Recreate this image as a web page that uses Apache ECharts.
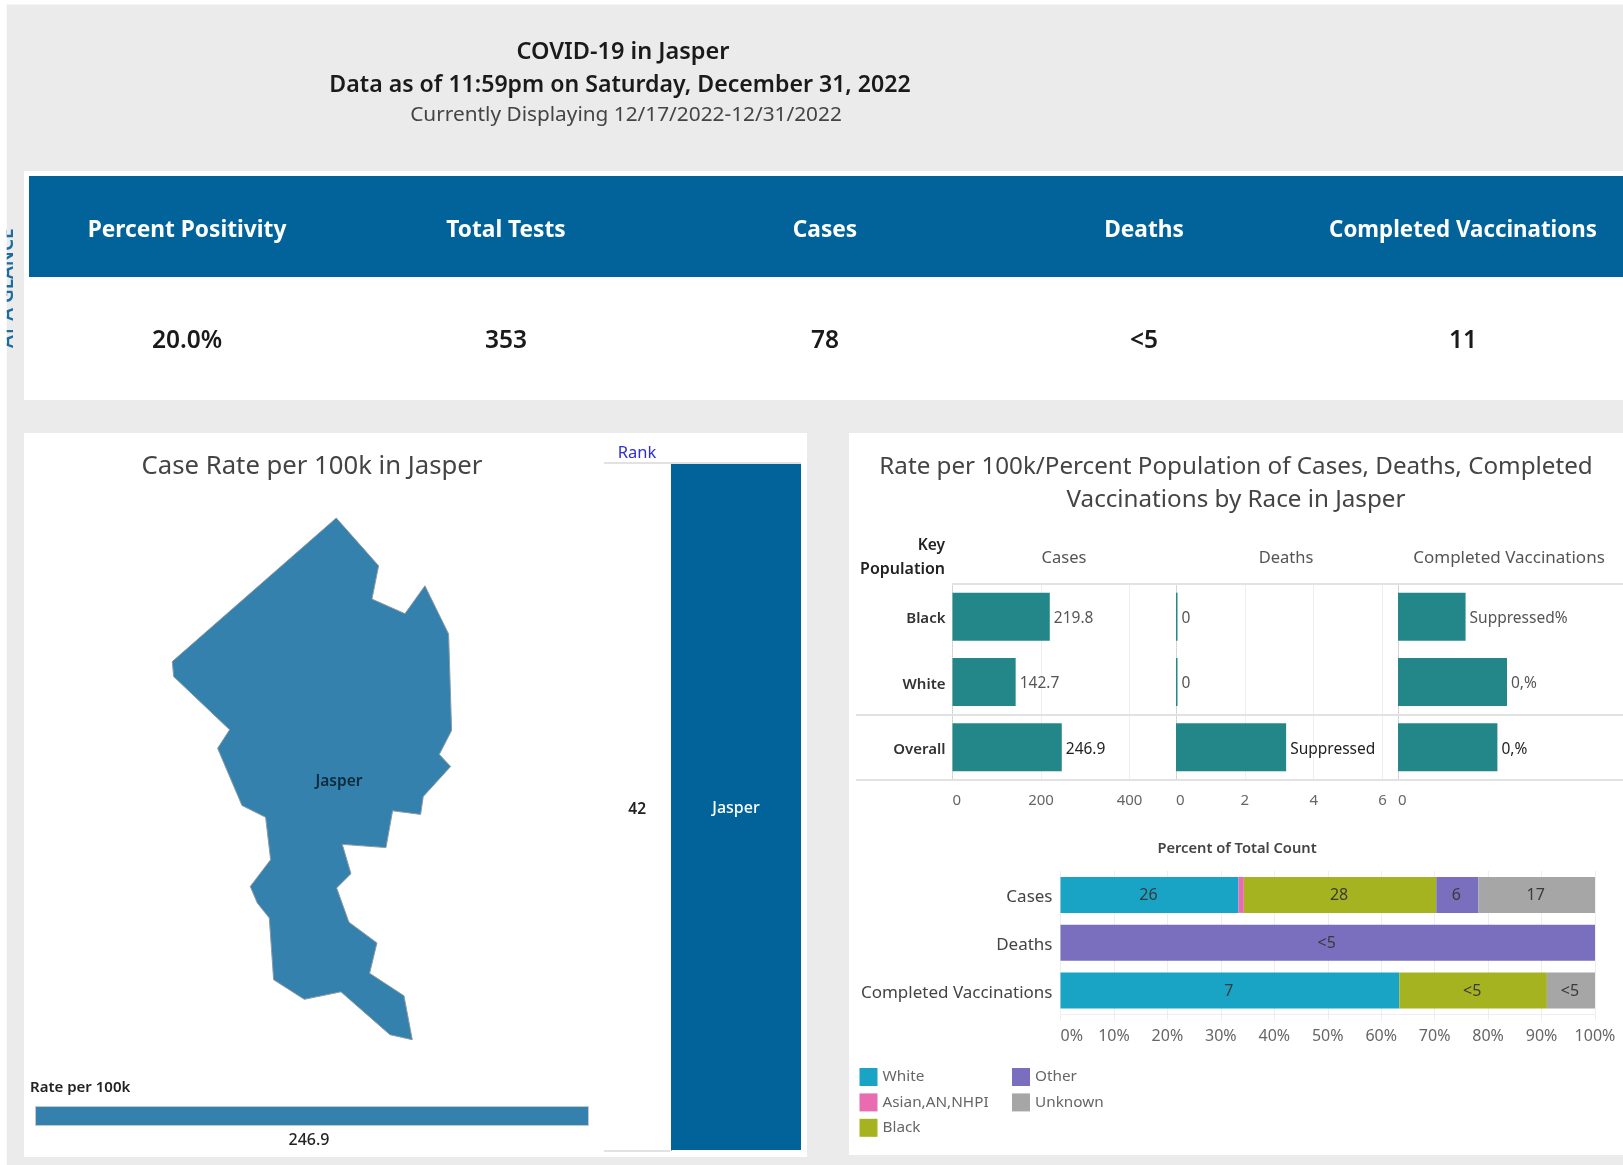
<!DOCTYPE html>
<html>
<head>
<meta charset="utf-8">
<title>COVID-19 in Jasper</title>
<script src="https://cdn.jsdelivr.net/npm/echarts@6/dist/echarts.min.js"></script>
<style>
	html, body { margin: 0; padding: 0; background: #ebebeb; }
	#main { width: 1623px; height: 1165px; }
</style>
</head>
<body>
<div id="main"></div>
<script>
	var kpiHeaders = ['Percent Positivity', 'Total Tests', 'Cases', 'Deaths', 'Completed Vaccinations'];
	var kpiValues = ['20.0%', '353', '78', '<5', '11'];

	// county outline
	var jasperOutline = [[589,50],[716,184],[696,277],[795,318],[855,240],[926,375],[935,645],[898,712],[932,746],[850,830],[842,880],[758,870],[738,973],[607,964],[633,1046],[590,1086],[627,1182],[711,1240],[689,1325],[792,1388],[817,1511],[750,1497],[603,1377],[493,1398],[401,1343],[388,1170],[352,1128],[331,1082],[392,1007],[377,888],[306,855],[233,695],[269,643],[101,494],[97,452],[589,50]];
	var rateName = 'Jasper';
	var rateValue = [246.9];
	var rankLabels = ['42'];
	var rankValues = [1];

	var keyPopulation = ['Black', 'White', 'Overall'];
	var caseRates = [219.8, 142.7, 246.9];
	var deathRates = [0, 0, 3.2];
	var deathLabels = ['0', '0', 'Suppressed'];
	var vaccPercent = [0.31, 0.5, 0.456];
	var vaccLabels = ['Suppressed%', '0,%', '0,%'];

	var totalCats = ['Cases', 'Deaths', 'Completed Vaccinations'];
	var races = ['White', 'Asian,AN,NHPI', 'Black', 'Other', 'Unknown'];
	var racePercent = [
		[33.3, null, 63.4],
		[1, null, null],
		[36, null, 27.6],
		[7.9, 100, null],
		[21.8, null, 9]
	];
	var raceLabels = [
		['26', '', '7'],
		['', '', ''],
		['28', '', '<5'],
		['6', '<5', ''],
		['17', '', '<5']
	];
	var raceColors = ['#19a3c5', '#e96cb1', '#a5b321', '#7a6fbe', '#a6a6a6'];

	var FONT = '"Noto Sans", sans-serif';
	var TEAL = '#23878a';

	function text(x, y, str, size, color, weight, align) {
		return {
			type: 'text', x: x, y: y, z: 5,
			style: {
				text: str, font: (weight || 'normal') + ' ' + size + 'px ' + FONT,
				fill: color, align: align || 'center', verticalAlign: 'middle'
			}
		};
	}
	function box(x, y, w, h, color, z) {
		return { type: 'rect', z: z || 0, silent: true, shape: { x: x, y: y, width: w, height: h }, style: { fill: color } };
	}
	function rule(x1, x2, y, color) {
		return { type: 'line', z: 1, silent: true, shape: { x1: x1, y1: y, x2: x2, y2: y }, style: { stroke: color || '#e2e2e2', lineWidth: 2 } };
	}
	// axis label nudged down a little, plain padding is ignored on these
	function nudged(size, color, weight, margin) {
		return {
			margin: margin,
			formatter: '{a|{value}}',
			rich: { a: { fontFamily: FONT, fontSize: size, color: color, fontWeight: weight, padding: [5, 0, 0, 0] } }
		};
	}

	var chart = echarts.init(document.getElementById('main'));

	echarts.registerMap('jasper', {
		type: 'FeatureCollection',
		features: [{
			type: 'Feature',
			properties: { name: rateName, cp: [597, -788] },
			geometry: { type: 'Polygon', coordinates: [jasperOutline.map(function (p) { return [p[0], -p[1]]; })] }
		}]
	});

	var elements = [
		box(0, 0, 1623, 4.5, '#ffffff'),
		box(0, 0, 6.7, 1165, '#ffffff', 7),
		box(24, 171, 1599, 229, '#ffffff'),
		box(29, 176, 1594, 101, '#02639b', 1),
		box(24, 433, 783, 724, '#ffffff'),
		box(849, 433, 774, 722, '#ffffff'),
		text(623, 52.5, 'COVID-19 in Jasper', 23.5, '#1a1a1a', '600'),
		text(620, 85.5, 'Data as of 11:59pm on Saturday, December 31, 2022', 23.1, '#1a1a1a', '600'),
		text(626, 115.5, 'Currently Displaying 12/17/2022-12/31/2022', 20.8, '#444444'),
		{
			type: 'text', x: 7.5, y: 348, rotation: Math.PI / 2, z: 5,
			style: { text: 'AT A GLANCE', font: '600 19px ' + FONT, fill: '#1d6c9e', verticalAlign: 'middle' }
		},
		text(312, 466.5, 'Case Rate per 100k in Jasper', 25.7, '#444444'),
		text(637, 453, 'Rank', 16.5, '#2e2edb'),
		rule(604, 801, 463),
		rule(604, 670, 1151),
		text(30, 1088, 'Rate per 100k', 15, '#222222', '600', 'left'),
		text(1236, 467.5, 'Rate per 100k/Percent Population of Cases, Deaths, Completed', 24.2, '#444444'),
		text(1236, 500.5, 'Vaccinations by Race in Jasper', 24.2, '#444444'),
		text(945, 546, 'Key', 15.5, '#222222', '600', 'right'),
		text(945, 569, 'Population', 16, '#222222', '600', 'right'),
		text(1064, 558, 'Cases', 16.5, '#555555'),
		text(1286, 558, 'Deaths', 16.5, '#555555'),
		text(1509, 558, 'Completed Vaccinations', 17, '#555555'),
		rule(952, 1623, 584),
		rule(856, 1623, 715),
		rule(856, 1623, 780),
		text(1237, 849, 'Percent of Total Count', 14.7, '#444444', '600')
	];
	kpiHeaders.forEach(function (h, i) {
		var cx = 187 + i * 319;
		// the long last header is set a touch tighter
		elements.push(text(cx, 231, h, i === 4 ? 22.3 : 22.7, '#ffffff', '700'));
		elements.push(text(cx, 341.5, kpiValues[i], 24.5, '#1a1a1a', '600'));
	});

	var tick = { fontFamily: FONT, fontSize: 15, color: '#666666' };
	var zeroLine = { show: true, lineStyle: { color: '#cccccc', type: 'dotted' } };
	var gridLine = { show: true, showMaxLine: false, showMinLine: false, lineStyle: { color: '#eeeeee' } };

	function valueAxis(idx, max, interval) {
		return {
			type: 'value', gridIndex: idx, min: 0, max: max, interval: interval,
			axisLine: { show: false }, axisTick: { show: false },
			splitLine: gridLine,
			axisLabel: Object.assign({}, tick, { showMaxLabel: false, alignMinLabel: 'left', margin: 13 })
		};
	}
	function rowAxis(idx, labels) {
		return {
			type: 'category', gridIndex: idx, inverse: true, data: keyPopulation,
			axisLine: zeroLine, axisTick: { show: false },
			axisLabel: labels ? nudged(15, '#333333', 600, 7) : { show: false }
		};
	}
	function rowBars(idx, values, labels) {
		return {
			type: 'bar', xAxisIndex: idx, yAxisIndex: idx, barWidth: 48, barMinHeight: 1.5, silent: true,
			// the Overall row reads darker than the race rows
			data: values.map(function (v, i) {
				return i === 2 ? { value: v, label: { color: '#222222' } } : v;
			}),
			itemStyle: { color: TEAL },
			label: {
				show: true, position: 'right', distance: 4, offset: [0, 2], fontFamily: FONT, fontSize: 15.5,
				color: '#555555',
				formatter: function (p) { return labels[p.dataIndex]; }
			}
		};
	}

	var series = [
		{
			type: 'map', map: 'jasper', aspectScale: 0.933, roam: false, silent: true, showLegendSymbol: false,
			left: 172.3, top: 518, width: 279.3, height: 521.7,
			data: [{ name: rateName, value: rateValue[0] }],
			itemStyle: { areaColor: '#3381ac', borderColor: '#8b9aa5', borderWidth: 1 },
			label: { show: true, formatter: '{b}', fontFamily: FONT, fontSize: 15.5, fontWeight: 600, color: '#0f2a3c' },
			emphasis: { disabled: true }
		},
		{
			type: 'bar', xAxisIndex: 0, yAxisIndex: 0, data: rankValues, barWidth: '100%', silent: true,
			itemStyle: { color: '#02639b' },
			label: { show: true, position: 'inside', offset: [0, 1], formatter: rateName, fontFamily: FONT, fontSize: 16, fontWeight: 500, color: '#ffffff' }
		},
		{
			type: 'bar', xAxisIndex: 1, yAxisIndex: 1, data: rateValue, barWidth: '100%', silent: true,
			itemStyle: { color: '#3381ac', borderColor: '#c4c9cc', borderWidth: 1 },
			label: { show: true, position: 'bottom', distance: 4, offset: [-3, 2], fontFamily: FONT, fontSize: 16, fontWeight: 500, color: '#222222' }
		},
		rowBars(2, caseRates, caseRates.map(String)),
		rowBars(3, deathRates, deathLabels),
		rowBars(4, vaccPercent, vaccLabels)
	];
	races.forEach(function (r, i) {
		series.push({
			name: r, type: 'bar', stack: 'total', xAxisIndex: 5, yAxisIndex: 5, barWidth: 36, silent: true,
			data: racePercent[i], itemStyle: { color: raceColors[i] },
			label: {
				show: true, position: 'inside', offset: [-1, 1], fontFamily: FONT, fontSize: 16, color: '#3a3a3a',
				formatter: function (p) { return raceLabels[i][p.dataIndex]; }
			}
		});
	});

	function legendAt(left, names) {
		return {
			left: left, top: 1068, padding: 0, orient: 'vertical', data: names, icon: 'rect', selectedMode: false,
			itemWidth: 18, itemHeight: 18, itemGap: 7.4, itemStyle: { borderWidth: 0 },
			textStyle: { fontFamily: FONT, fontSize: 15.3, color: '#666666' }
		};
	}

	chart.setOption({
		backgroundColor: '#ebebeb',
		animation: false,
		graphic: { elements: elements },
		legend: [legendAt(859.5, races.slice(0, 3)), legendAt(1012, races.slice(3))],
		grid: [
			{ left: 671, top: 464, width: 130, height: 686 },
			{ left: 35, top: 1106, width: 554, height: 20 },
			{ left: 952.5, top: 584, width: 223.5, height: 196 },
			{ left: 1176, top: 584, width: 222, height: 196 },
			{ left: 1398, top: 584, width: 218, height: 196 },
			{ left: 1060.5, top: 871, width: 534.5, height: 143.4 }
		],
		xAxis: [
			{ type: 'value', gridIndex: 0, min: 0, max: 1, show: false },
			{ type: 'value', gridIndex: 1, min: 0, max: rateValue[0], show: false },
			valueAxis(2, 505, 200),
			valueAxis(3, 6.45, 2),
			Object.assign(valueAxis(4, 1, 1), { splitLine: { show: false } }),
			{
				type: 'value', gridIndex: 5, min: 0, max: 100, interval: 10,
				axisLine: { show: true, lineStyle: { color: '#eeeeee' } },
				axisTick: { show: true, length: 6, lineStyle: { color: '#eeeeee' } },
				splitLine: { show: true, lineStyle: { color: '#eeeeee' } },
				axisLabel: Object.assign({}, tick, { fontSize: 16, formatter: '{value}%', alignMinLabel: 'left', margin: 14 })
			}
		],
		yAxis: [
			{
				type: 'category', gridIndex: 0, data: rankLabels,
				axisLine: { show: true, lineStyle: { color: '#222222' } }, axisTick: { show: false },
				axisLabel: nudged(15.5, '#222222', 600, 25)
			},
			{ type: 'category', gridIndex: 1, data: [rateName], show: false },
			rowAxis(2, true),
			rowAxis(3, false),
			rowAxis(4, false),
			{
				type: 'category', gridIndex: 5, inverse: true, data: totalCats,
				axisLine: { show: false }, axisTick: { show: false },
				axisLabel: nudged(17, '#444444', 400, 8)
			}
		],
		series: series
	});
</script>
</body>
</html>
